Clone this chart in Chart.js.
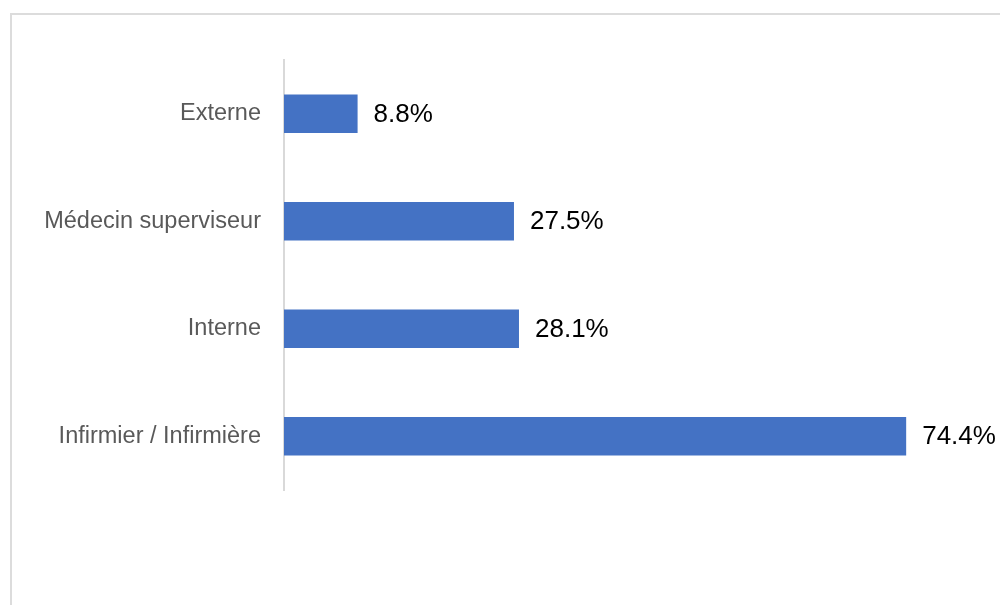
<!DOCTYPE html>
<html>
<head>
<meta charset="utf-8">
<script src="https://cdn.jsdelivr.net/npm/chart.js@4"></script>
<style>
    html, body { margin: 0; padding: 0; background: #fff; overflow: hidden; }
    #frame { position: absolute; left: 10px; top: 13px; width: 1100px; height: 700px; border: 2px solid #dcdcdc; }
    #barChart { position: absolute; left: 0; top: 0; }
</style>
</head>
<body>
<div id="frame"></div>
<canvas id="barChart" width="1000" height="605"></canvas>
<script>
var categories = ['Externe', 'Médecin superviseur', 'Interne', 'Infirmier / Infirmière'];
var values = [8.8, 27.5, 28.1, 74.4];
var labelTexts = ['8.8%', '27.5%', '28.1%', '74.4%'];

// draws the value next to the end of each bar
var valueLabels = {
    id: 'valueLabels',
    afterDatasetsDraw: function (chart) {
        var ctx = chart.ctx;
        var meta = chart.getDatasetMeta(0);
        ctx.save();
        ctx.font = '26px "Liberation Sans", Arial, sans-serif';
        ctx.fillStyle = '#000000';
        ctx.textAlign = 'left';
        ctx.textBaseline = 'middle';
        for (var i = 0; i < meta.data.length; i++) {
            var bar = meta.data[i];
            ctx.fillText(labelTexts[i], bar.x + 16, bar.y + 1);
        }
        ctx.restore();
    }
};

var ctx = document.getElementById('barChart').getContext('2d');
var myChart = new Chart(ctx, {
    type: 'bar',
    data: {
        labels: categories,
        datasets: [
            {
                data: values,
                backgroundColor: '#4472c4',
                borderWidth: 0,
                categoryPercentage: 1,
                barPercentage: 0.356
            }
        ]
    },
    options: {
        indexAxis: 'y',
        responsive: false,
        animation: false,
        layout: {
            padding: { top: 60, bottom: 115, left: 0, right: 47 }
        },
        plugins: {
            legend: { display: false },
            tooltip: { enabled: false }
        },
        scales: {
            x: {
                display: false,
                min: 0,
                max: 80
            },
            y: {
                grid: { display: false },
                border: { display: true, color: '#d9d9d9', width: 2 },
                ticks: {
                    color: '#595959',
                    padding: 15,
                    font: { family: '"Liberation Sans", Arial, sans-serif', size: 23.5 }
                },
                afterFit: function (scale) {
                    scale.width = 284;
                }
            }
        }
    },
    plugins: [valueLabels]
});
</script>
</body>
</html>
